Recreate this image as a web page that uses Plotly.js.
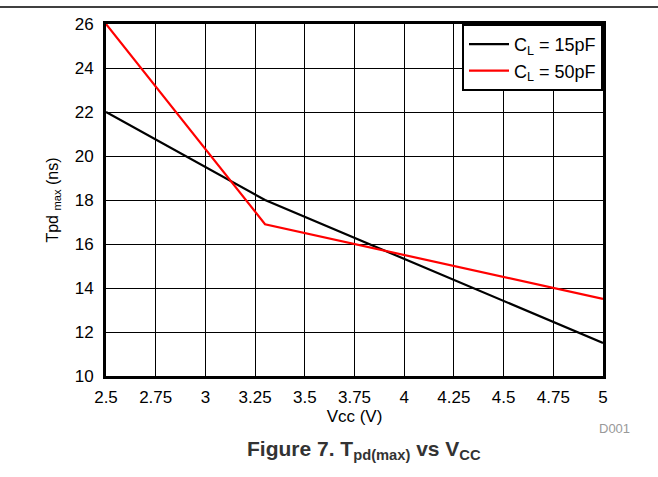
<!DOCTYPE html>
<html>
<head>
<meta charset="utf-8">
<script src="https://cdn.plot.ly/plotly-3.0.1.min.js"></script>
<style>html,body{margin:0;padding:0;background:#fff;}#chart{width:658px;height:477px;}</style>
</head>
<body>
<div id="chart"></div>
<script>
// Data
const vcc15 = [2.5, 3.3, 5.0];
const tpd15 = [22.0, 18.0, 11.5];
const vcc50 = [2.5, 3.3, 5.0];
const tpd50 = [26.0, 16.9, 13.5];
const seriesNames = ['C<sub>L</sub> = 15pF', 'C<sub>L</sub> = 50pF'];
const xTicks = [2.5, 2.75, 3, 3.25, 3.5, 3.75, 4, 4.25, 4.5, 4.75, 5];
const xTickLabels = ['2.5', '2.75', '3', '3.25', '3.5', '3.75', '4', '4.25', '4.5', '4.75', '5'];
const yTicks = [10, 12, 14, 16, 18, 20, 22, 24, 26];

const font = 'Liberation Sans, Arial, sans-serif';

const traces = [
  {x: vcc15, y: tpd15, name: seriesNames[0], mode: 'lines', line: {color: '#000000', width: 2.2}},
  {x: vcc50, y: tpd50, name: seriesNames[1], mode: 'lines', line: {color: '#ff0000', width: 2.2}}
];

const layout = {
  width: 658, height: 477,
  margin: {l: 106, r: 55, t: 24, b: 101},
  paper_bgcolor: '#ffffff', plot_bgcolor: '#ffffff',
  font: {family: font, size: 17, color: '#000'},
  showlegend: true,
  legend: {
    x: 1, xanchor: 'right', y: 1, yanchor: 'top',
    bgcolor: '#ffffff', bordercolor: '#000', borderwidth: 2,
    font: {family: font, size: 18, color: '#000'},
    tracegroupgap: 0, itemwidth: 40
  },
  xaxis: {
    range: [2.5, 5], tickvals: xTicks, ticktext: xTickLabels,
    showgrid: true, gridcolor: '#000', gridwidth: 1,
    zeroline: false, showline: true, linecolor: '#000', linewidth: 3, mirror: true,
    ticks: '', ticklen: 0, ticklabelstandoff: 4,
    tickfont: {family: font, size: 17, color: '#000'},
    title: {text: 'Vcc (V)', font: {family: font, size: 17, color: '#000'}, standoff: 0},
    fixedrange: true
  },
  yaxis: {
    range: [10, 26], tickvals: yTicks,
    showgrid: true, gridcolor: '#000', gridwidth: 1,
    zeroline: false, showline: true, linecolor: '#000', linewidth: 3, mirror: true,
    ticks: '', ticklen: 0, ticklabelstandoff: 6,
    tickfont: {family: font, size: 17, color: '#000'},
    title: {text: 'Tpd <sub>max</sub> (ns)', font: {family: font, size: 16, color: '#000'}, standoff: 13},
    fixedrange: true
  },
  shapes: [
    {type: 'line', xref: 'paper', yref: 'paper', x0: -0.2133, x1: 1.1107, y0: 1.048, y1: 1.048,
     line: {color: '#000', width: 1.5}}
  ],
  annotations: [
    {xref: 'paper', yref: 'paper', x: 1.023, y: -0.148, xanchor: 'center', yanchor: 'middle',
     text: 'D001', showarrow: false, font: {family: font, size: 13, color: '#999999'}},
    {xref: 'paper', yref: 'paper', x: 0.519, y: -0.21, xanchor: 'center', yanchor: 'middle',
     text: '<b>Figure 7. T<sub>pd(max)</sub> vs V<sub>CC</sub></b>', showarrow: false,
     font: {family: font, size: 21, color: '#333333'}}
  ]
};

Plotly.newPlot('chart', traces, layout, {displayModeBar: false, staticPlot: true});
</script>
</body>
</html>
